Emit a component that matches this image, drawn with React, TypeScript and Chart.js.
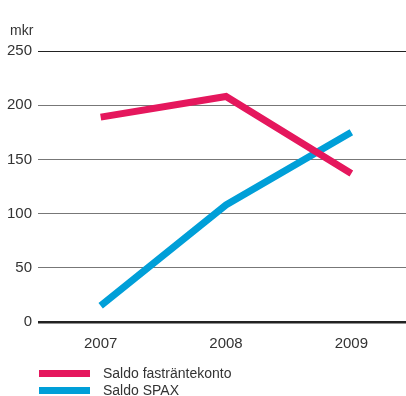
import React, { useEffect, useRef } from "react";
import { Chart, registerables } from "chart.js";

Chart.register(...registerables);

const years = ["2007", "2008", "2009"];
const fastranta = [189, 208, 137];
const spax = [15, 108, 175];
const seriesNames = ["Saldo fasträntekonto", "Saldo SPAX"];
const colors = ["#e5175d", "#009fd8"];
const unitLabel = "mkr";

const FONT = "'Liberation Sans', Arial, sans-serif";

export default function App() {
  const ref = useRef<HTMLCanvasElement | null>(null);
  useEffect(() => {
    if (!ref.current) return;
    const chart = new Chart(ref.current, {
      type: "line",
      data: {
        labels: years,
        datasets: [
          { label: seriesNames[0], data: fastranta, borderColor: colors[0], backgroundColor: colors[0], borderWidth: 7, pointRadius: 0, tension: 0, borderCapStyle: "butt", borderJoinStyle: "miter" },
          { label: seriesNames[1], data: spax, borderColor: colors[1], backgroundColor: colors[1], borderWidth: 7, pointRadius: 0, tension: 0, borderCapStyle: "butt", borderJoinStyle: "miter" },
        ],
      },
      options: {
        responsive: false,
        animation: false,
        layout: { padding: { top: 51, left: 0, right: 0, bottom: 44 } },
        plugins: { legend: { display: false }, tooltip: { enabled: false } },
        scales: {
          x: {
            offset: true,
            grid: { display: false },
            border: { display: false },
            ticks: { color: "#333", font: { family: FONT, size: 15 }, padding: 5, maxRotation: 0 },
            afterFit: (s: any) => { s.height = 30; },
          },
          y: {
            min: 0,
            max: 250,
            border: { display: false },
            grid: {
              drawTicks: false,
              color: (c: any) => (c.tick && (c.tick.value === 0 || c.tick.value === 250) ? "#222" : "#777"),
              lineWidth: (c: any) => (c.tick && c.tick.value === 0 ? 2.5 : 1),
            },
            ticks: { stepSize: 50, color: "#333", font: { family: FONT, size: 15 }, padding: 6 },
            afterFit: (s: any) => { s.width = 38; },
          },
        },
      },
    });
    return () => chart.destroy();
  }, []);

  const legendRow = (i: number, top: number) => (
    <div key={i} style={{ position: "absolute", left: 39, top, height: 18, display: "flex", alignItems: "center" }}>
      <div style={{ width: 51, height: 7, background: colors[i] }} />
      <span style={{ marginLeft: 13, fontFamily: FONT, fontSize: 14, color: "#333", lineHeight: "18px" }}>{seriesNames[i]}</span>
    </div>
  );

  return (
    <div style={{ position: "fixed", left: 0, top: 0, width: 406, height: 396, background: "#fff", overflow: "hidden" }}>
      <canvas ref={ref} width={414} height={396} style={{ position: "absolute", left: 0, top: 0 }} />
      <div style={{ position: "absolute", left: 10, top: 21, fontFamily: FONT, fontSize: 14, color: "#333", lineHeight: "18px" }}>{unitLabel}</div>
      {legendRow(0, 364)}
      {legendRow(1, 381)}
    </div>
  );
}
